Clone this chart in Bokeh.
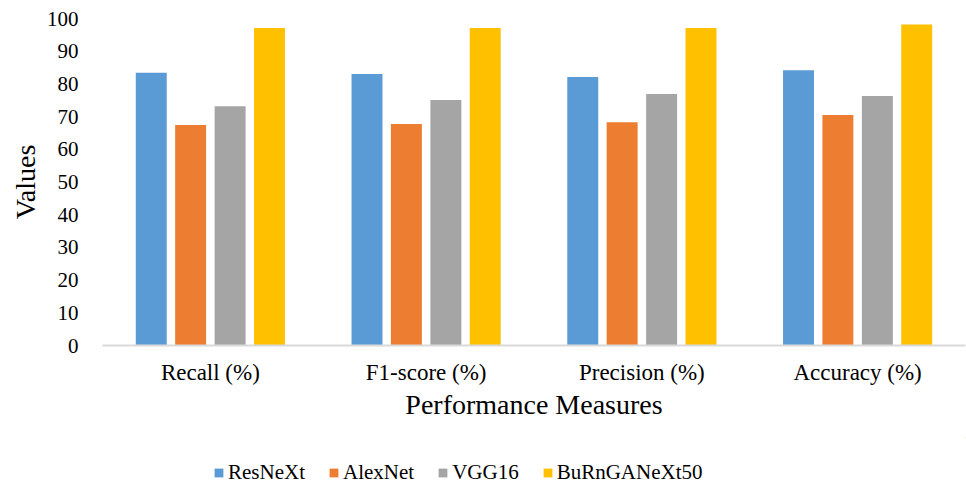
from bokeh.plotting import figure
from bokeh.layouts import column
from bokeh.models import ColumnDataSource, FactorRange, Range1d, Legend, LegendItem, SingleIntervalTicker
from bokeh.transform import dodge
from bokeh.embed import file_html
from bokeh.resources import INLINE

categories = ["Recall (%)", "F1-score (%)", "Precision (%)", "Accuracy (%)"]
series_names = ["ResNeXt", "AlexNet", "VGG16", "BuRnGANeXt50"]
resnext = [83.4, 83.0, 82.1, 84.2]
alexnet = [67.4, 67.7, 68.3, 70.5]
vgg16 = [73.2, 75.1, 76.9, 76.3]
burngan = [97.1, 97.1, 97.1, 98.2]
colors = ["#5B9BD5", "#ED7D31", "#A5A5A5", "#FFC000"]

src = ColumnDataSource(dict(cat=categories, ResNeXt=resnext, AlexNet=alexnet, VGG16=vgg16, BuRnGANeXt50=burngan))

FONT = "Liberation Serif"

p = figure(width=966, height=437, x_range=FactorRange(*categories, range_padding=0),
           y_range=Range1d(0, 100), output_backend="svg", toolbar_location=None,
           min_border_left=102, min_border_right=1, min_border_top=18, min_border_bottom=92)
p.outline_line_color = None
p.grid.grid_line_color = None
p.background_fill_color = "white"
p.border_fill_color = "white"

offsets = [-0.274, -0.0915, 0.0915, 0.274]
for name, off, col in zip(series_names, offsets, colors):
    p.vbar(x=dodge("cat", off, range=p.x_range), top=name, width=0.1435, source=src,
           fill_color=col, line_color=None)

# y axis
p.yaxis.ticker = SingleIntervalTicker(interval=10)
p.yaxis.axis_line_color = None
p.yaxis.major_tick_line_color = None
p.yaxis.minor_tick_line_color = None
p.yaxis.major_label_text_font = FONT
p.yaxis.major_label_text_font_size = "21px"
p.yaxis.major_label_text_color = "#000000"
p.yaxis.major_label_standoff = 18
p.yaxis.axis_label = "Values"
p.yaxis.axis_label_text_font = FONT
p.yaxis.axis_label_text_font_size = "28px"
p.yaxis.axis_label_text_font_style = "normal"
p.yaxis.axis_label_text_color = "#000000"
p.yaxis.axis_label_standoff = 3

# x axis
p.xaxis.axis_line_color = "#D9D9D9"
p.xaxis.axis_line_width = 2
p.xaxis.major_tick_line_color = None
p.xaxis.minor_tick_line_color = None
p.xaxis.major_label_text_font = FONT
p.xaxis.major_label_text_font_size = "23px"
p.xaxis.major_label_text_color = "#000000"
p.xaxis.major_label_standoff = 8
p.xaxis.axis_label = "Performance Measures"
p.xaxis.axis_label_text_font = FONT
p.xaxis.axis_label_text_font_size = "28px"
p.xaxis.axis_label_text_font_style = "normal"
p.xaxis.axis_label_text_color = "#000000"
p.xaxis.axis_label_standoff = 1

# legend strip (swatch renderers sit outside the visible range)
lf = figure(width=966, height=50, x_range=Range1d(0, 1), y_range=Range1d(0, 1),
            output_backend="svg", toolbar_location=None,
            x_axis_location=None, y_axis_location=None,
            min_border_left=0, min_border_right=0, min_border_top=0, min_border_bottom=0)
lf.outline_line_color = None
lf.grid.grid_line_color = None
lf.border_fill_color = "white"
items = []
for name, col in zip(series_names, colors):
    r = lf.vbar(x="x", top="top", bottom="bottom", width=0.1,
                source=ColumnDataSource(dict(x=[10], top=[11], bottom=[10])),
                fill_color=col, line_color=None)
    items.append(LegendItem(label=name, renderers=[r]))

legend = Legend(items=items, orientation="horizontal", location=(111, 2),
                label_text_font=FONT, label_text_font_size="21px", label_text_color="#000000",
                glyph_width=11, glyph_height=11, label_standoff=4, spacing=23,
                border_line_color=None, background_fill_alpha=0, padding=4, margin=0)
lf.add_layout(legend, "center")

layout = column(p, lf, spacing=0)
open("out.html", "w").write(file_html(layout, INLINE))
